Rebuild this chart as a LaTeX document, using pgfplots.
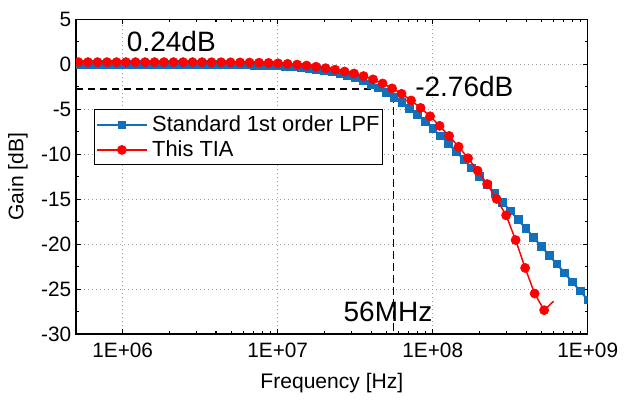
\documentclass[border=0pt]{standalone}
\usepackage{fontspec}
\setmainfont{Liberation Sans}
\usepackage{pgfplots}
\usepackage{pgfplotstable}
\pgfplotsset{compat=1.18}
\definecolor{lpfblue}{RGB}{17,112,185}
\definecolor{tiared}{RGB}{255,0,0}

\pgfplotstableread{
f g
501187 0.00
562341 0.00
630957 0.00
707946 0.00
794328 0.00
891251 0.00
1e6 0.00
1.12202e6 0.00
1.25893e6 0.00
1.41254e6 0.00
1.58489e6 0.00
1.77828e6 -0.01
1.99526e6 -0.01
2.23872e6 -0.01
2.51189e6 -0.01
2.81838e6 -0.01
3.16228e6 -0.02
3.54813e6 -0.02
3.98107e6 -0.03
4.46684e6 -0.04
5.01187e6 -0.05
5.62341e6 -0.06
6.30957e6 -0.07
7.07946e6 -0.09
7.94328e6 -0.11
8.91251e6 -0.14
1e7 -0.18
1.12202e7 -0.22
1.25893e7 -0.28
1.41254e7 -0.35
1.58489e7 -0.43
1.77828e7 -0.54
1.99526e7 -0.67
2.23872e7 -0.82
2.51189e7 -1.01
2.81838e7 -1.24
3.16228e7 -1.51
3.54813e7 -1.83
3.98107e7 -2.20
4.46684e7 -2.63
5.01187e7 -3.11
5.62341e7 -3.65
6.30957e7 -4.25
7.07946e7 -4.90
7.94328e7 -5.60
8.91251e7 -6.35
1e8 -7.13
1.12202e8 -7.96
1.25893e8 -8.81
1.41254e8 -9.69
1.58489e8 -10.60
1.77828e8 -11.52
1.99526e8 -12.45
2.23872e8 -13.40
2.51189e8 -14.36
2.81838e8 -15.33
3.16228e8 -16.30
3.54813e8 -17.28
3.98107e8 -18.26
4.46684e8 -19.25
5.01187e8 -20.23
5.62341e8 -21.22
6.30957e8 -22.21
7.07946e8 -23.21
7.94328e8 -24.20
8.91251e8 -25.19
1e9 -26.19
}\lpfdata

\pgfplotstableread{
f g
5.188e5 0.24
5.973e5 0.24
6.879e5 0.24
7.922e5 0.24
9.124e5 0.24
1.0507e6 0.24
1.2100e6 0.24
1.3935e6 0.24
1.6048e6 0.24
1.8481e6 0.24
2.1281e6 0.24
2.4509e6 0.24
2.8225e6 0.24
3.2504e6 0.24
3.7432e6 0.23
4.3107e6 0.23
4.9642e6 0.22
5.7168e6 0.21
6.5836e6 0.20
7.5817e6 0.18
8.7297e6 0.15
1.0053e7 0.11
1.1577e7 0.05
1.3332e7 -0.03
1.5353e7 -0.14
1.7681e7 -0.27
2.0362e7 -0.43
2.3449e7 -0.60
2.7004e7 -0.80
3.1098e7 -1.02
3.5810e7 -1.31
4.1239e7 -1.68
4.7490e7 -2.13
5.4689e7 -2.68
6.2980e7 -3.28
7.2527e7 -4.02
8.3520e7 -4.85
9.6184e7 -5.78
1.1076e8 -6.85
1.2756e8 -7.97
1.4689e8 -9.17
1.6916e8 -10.45
1.9481e8 -11.83
2.2434e8 -13.32
2.5835e8 -14.98
2.9751e8 -16.80
3.4261e8 -19.55
3.9455e8 -22.65
4.5437e8 -25.50
5.2325e8 -27.35
}\tiadata

\begin{document}
\begin{tikzpicture}
\useasboundingbox (-57pt,-49.5pt) rectangle (420pt,250.5pt);
\begin{axis}[
  at={(0pt,0pt)}, anchor=south west,
  scale only axis, width=383.8pt, height=236.0pt,
  xmode=log, xmin=5e5, xmax=1e9,
  ymin=-30, ymax=5,
  xtick={1e6,1e7,1e8,1e9},
  xticklabels={1E+06,1E+07,1E+08,1E+09},
  ytick={-30,-25,-20,-15,-10,-5,0,5},
  yticklabels={-30,-25,-20,-15,-10,-5,0,5},
  minor ytick={-27.5,-22.5,-17.5,-12.5,-7.5,-2.5,2.5},
  tick align=inside,
  major tick length=3.75pt, minor tick length=2.25pt,
  every tick/.style={black, line width=0.8pt},
  axis line style={line width=1.1pt},
  grid=major,
  major grid style={gray!75, line width=0.7pt, dash pattern=on 1pt off 2pt},
  tick label style={font=\fontsize{15.6}{18}\selectfont},
  xticklabel style={yshift=-3pt},
  xlabel={Frequency [Hz]}, ylabel={Gain [dB]},
  label style={font=\fontsize{15.8}{18}\selectfont},
  xlabel style={at={(axis description cs:0.5,-0.1557)}, anchor=center},
  ylabel style={at={(axis description cs:-0.1134,0.5)}, anchor=center},
  clip marker paths=true,
  legend cell align=left,
  legend style={at={(axis description cs:0.0358,0.714)}, anchor=north west,
    draw=black, line width=0.8pt, fill=white,
    font=\fontsize{16.4}{18}\selectfont,
    inner xsep=1pt, inner ysep=3pt,
    nodes={inner sep=1.5pt, text depth=0.15em},
    row sep=2.5pt,
    /tikz/every odd column/.append style={column sep=2pt},
    /tikz/every even column/.append style={column sep=3pt}},
  legend image code/.code={
    \draw[mark repeat=2,mark phase=2,#1] plot coordinates {(0pt,0pt) (18.5pt,0pt) (37pt,0pt)};
  },
]
\addplot[black, line width=1.1pt, dash pattern=on 5.5pt off 3.5pt, forget plot]
  coordinates {(5e5,-2.76) (5.6e7,-2.76) (5.6e7,-30)};

\addplot[color=lpfblue, line width=1.5pt, mark=square*, mark size=2.9pt,
  mark options={solid, fill=lpfblue, draw=lpfblue, line width=0.5pt}]
  table[x=f, y=g] {\lpfdata};
\addlegendentry{Standard 1st order LPF}

\addplot[color=tiared, line width=1.1pt, mark=*, mark size=3.4pt,
  mark options={solid, fill=tiared, draw=tiared, line width=0.5pt}]
  table[x=f, y=g] {\tiadata};
\addlegendentry{This TIA}

\addplot[color=tiared, line width=1.1pt, forget plot]
  coordinates {(5.2325e8,-27.35) (6.0256e8,-26.35)};

\node[anchor=west, inner sep=0pt, font=\fontsize{21}{24}\selectfont] at (axis cs:1.062e6,2.48) {0.24dB};
\node[anchor=west, inner sep=0pt, font=\fontsize{21}{24}\selectfont] at (axis cs:7.69e7,-2.52) {-2.76dB};
\node[anchor=west, inner sep=0pt, font=\fontsize{21}{24}\selectfont] at (axis cs:2.652e7,-27.49) {56MHz};
\end{axis}
\end{tikzpicture}
\end{document}
